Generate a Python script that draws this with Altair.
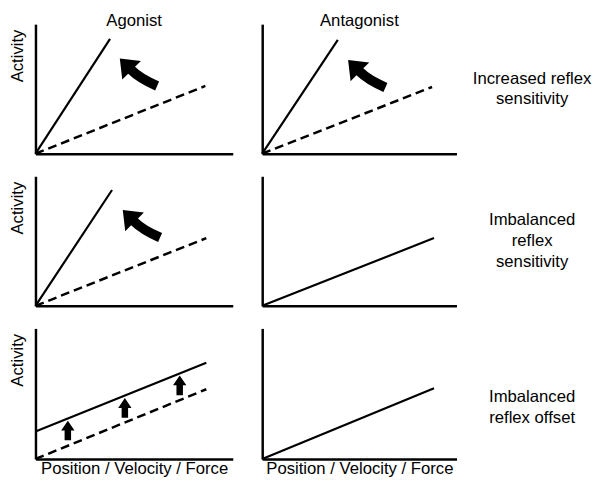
import altair as alt
import pandas as pd

FONT = "Liberation Sans, Arial, Helvetica, sans-serif"
FS = 17

col_titles = ["Agonist", "Antagonist"]
row_labels = ["Increased reflex\nsensitivity",
              "Imbalanced\nreflex\nsensitivity",
              "Imbalanced\nreflex offset"]
x_title = "Position / Velocity / Force"
y_title = "Activity"

# line segments (panel row, panel column, style, start, end) in panel units 0..10
line_row = [0, 0, 0, 0, 1, 1, 1, 2, 2, 2]
line_col = [0, 0, 1, 1, 0, 0, 1, 0, 0, 1]
line_style = ["solid", "dashed", "solid", "dashed", "solid", "dashed",
              "solid", "solid", "dashed", "solid"]
line_x0 = [0, 0, 0, 0, 0, 0, 0, 0, 0, 0]
line_y0 = [0, 0, 0, 0, 0, 0, 0, 2.11, 0, 0]
line_x1 = [3.78, 8.61, 3.89, 8.74, 3.88, 8.66, 8.84, 8.66, 8.66, 8.84]
line_y1 = [8.86, 5.23, 8.79, 5.15, 8.94, 5.23, 5.23, 7.37, 5.34, 5.41]

# arrows
arrow_row = [0, 0, 1, 2, 2, 2]
arrow_col = [0, 1, 0, 0, 0, 0]
arrow_kind = ["curved", "curved", "curved", "up", "up", "up"]
arrow_x = [5.22, 5.38, 5.37, 1.64, 4.53, 7.31]
arrow_y = [6.29, 6.17, 6.33, 2.18, 3.91, 5.64]

seg_rows = []
for i in range(len(line_row)):
    for xx, yy in ((line_x0[i], line_y0[i]), (line_x1[i], line_y1[i])):
        seg_rows.append(dict(row=line_row[i], col=line_col[i], seg=i,
                             style=line_style[i], x=xx, y=yy))
lines_df = pd.DataFrame(seg_rows)
arrows_df = pd.DataFrame(dict(row=arrow_row, col=arrow_col, kind=arrow_kind,
                              x=arrow_x, y=arrow_y))

CURVED = ("M-0.809,-0.596 L0.106,-0.489 L-0.149,-0.234 Q0.162,0.081 0.894,0.4 "
          "L0.723,0.791 Q-0.077,0.43 -0.447,0.064 L-0.702,0.319 Z")
UP = "M0,-1 L0.68,0 L0.33,0 L0.33,1 L-0.33,1 L-0.33,0 L-0.68,0 Z"
SHAPES = {"curved": (CURVED, 2209), "up": (UP, 400)}

PANEL_W = [201, 198]
PANEL_H = [132, 132, 133]
LABEL_DY = [-10.5, -21, 3.5]


def make_axis(title, is_y):
    kw = dict(labels=False, ticks=False, grid=False, domainColor="black",
              domainWidth=2.5, titleFont=FONT, titleFontSize=FS,
              titleFontWeight="normal", titleColor="black")
    kw["title"] = title if title else None
    if is_y:
        kw["titleAnchor"] = "end"
        kw["titlePadding"] = 9
        kw["titleY"] = 5
    else:
        kw["titlePadding"] = 2
    return alt.Axis(**kw)


def panel(r, c):
    xs = alt.Scale(domain=[0, 10], nice=False, zero=False)
    ys = alt.Scale(domain=[0, 10], nice=False, zero=False)
    enc = dict(
        x=alt.X("x:Q", scale=xs, axis=make_axis(x_title if r == 2 else None, False)),
        y=alt.Y("y:Q", scale=ys, axis=make_axis(y_title if c == 0 else None, True)),
    )
    ld = lines_df[(lines_df["row"] == r) & (lines_df["col"] == c)]
    layers = []
    solid = ld[ld["style"] == "solid"]
    if len(solid):
        layers.append(alt.Chart(solid).mark_line(color="black", strokeWidth=2.2)
                      .encode(detail="seg:N", **enc))
    dashed = ld[ld["style"] == "dashed"]
    if len(dashed):
        layers.append(alt.Chart(dashed).mark_line(color="black", strokeWidth=2.5,
                                                  strokeDash=[9, 5])
                      .encode(detail="seg:N", **enc))
    ad = arrows_df[(arrows_df["row"] == r) & (arrows_df["col"] == c)]
    for kind, (shape, size) in SHAPES.items():
        sub = ad[ad["kind"] == kind]
        if len(sub):
            layers.append(alt.Chart(sub).mark_point(shape=shape, size=size, filled=True,
                                                    color="black", opacity=1,
                                                    strokeWidth=0)
                          .encode(**enc))
    ch = alt.layer(*layers).properties(width=PANEL_W[c], height=PANEL_H[r])
    if r == 0:
        ch = ch.properties(title=alt.TitleParams(col_titles[c], font=FONT, fontSize=FS,
                                                 fontWeight="normal", color="black",
                                                 anchor="middle", offset=-6))
    return ch


def label_chart(r):
    df = pd.DataFrame({"label": [row_labels[r]]})
    return (alt.Chart(df)
            .mark_text(font=FONT, fontSize=FS, lineBreak="\n", lineHeight=21,
                       color="black", align="center", baseline="middle",
                       dy=LABEL_DY[r])
            .encode(text="label:N")
            .properties(width=122, height=PANEL_H[r]))


rows = []
for r in range(3):
    pair = alt.hconcat(panel(r, 0), panel(r, 1), spacing=25)
    rows.append(alt.hconcat(pair, label_chart(r), spacing=16))

chart = (alt.vconcat(*rows, spacing=18)
         .properties(padding=0)
         .configure_view(stroke=None))

chart.save("out.html", embed_options={"renderer": "svg", "actions": False})
